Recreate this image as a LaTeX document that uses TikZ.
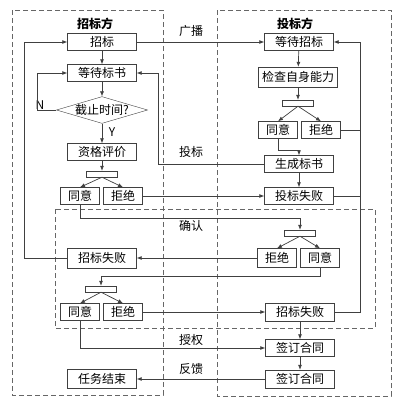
\documentclass[tikz,border=0pt]{standalone}
\usepackage{fontspec}
\setmainfont{Noto Sans CJK SC}
\usetikzlibrary{arrows.meta,shapes.geometric}
\begin{document}
\begin{tikzpicture}[x=1pt,y=-1pt,
    box/.style={draw=black!75,fill=white,minimum width=69pt,minimum height=17pt,inner sep=0pt,font=\fontsize{12}{12}\selectfont},
    sbox/.style={box,minimum width=39pt},
    bar/.style={draw=black!75,fill=white,minimum width=31pt,minimum height=6pt,inner sep=0pt},
    lnk/.style={draw=black!75,line width=0.7pt,-{Latex[length=5pt,width=4pt]}},
    ln/.style={draw=black!75,line width=0.7pt},
    lab/.style={font=\fontsize{12}{12}\selectfont},
    zone/.style={draw=black!60,dashed,line width=0.7pt,dash pattern=on 5pt off 3pt}]
\useasboundingbox (0,0) rectangle (400,407);
% dashed areas
\draw[zone] (12,10) rectangle (163,395);
\draw[zone] (217,10) rectangle (391,396);
\draw[zone] (55,209) rectangle (375,328);
% tenderer side
\node[lab,font=\fontsize{12}{12}\selectfont\bfseries] (zbf) at (95,24) {招标方};
\node[box] (zb) at (102,42) {招标};
\node[box] (ddbs) at (102,73) {等待标书};
\node[draw=black!75,fill=white,diamond,aspect=3.4,inner sep=0pt,font=\fontsize{12}{12}\selectfont] (jz) at (102,110) {截止时间?};
\node[box] (zgpj) at (102,152) {资格评价};
\node[bar] (barA) at (102,174) {};
\node[sbox] (tyA) at (80,196) {同意};
\node[sbox] (jjA) at (123,196) {拒绝};
\node[box,minimum height=20pt] (zbsbA) at (102,258) {招标失败};
\node[bar] (barB) at (101,289) {};
\node[sbox] (tyB) at (80,312) {同意};
\node[sbox] (jjB) at (123,312) {拒绝};
\node[box,minimum height=19pt] (rwjs) at (102,379) {任务结束};
% bidder side
\node[lab,font=\fontsize{12}{12}\selectfont\bfseries] (tbf) at (295,24) {投标方};
\node[box] (ddzb) at (299,42) {等待招标};
\node[box,minimum width=79pt,minimum height=20pt] (jczs) at (298,77) {检查自身能力};
\node[bar] (barC) at (298,103) {};
\node[sbox] (tyC) at (278,130) {同意};
\node[sbox] (jjC) at (321,130) {拒绝};
\node[box] (scbs) at (299,164) {生成标书};
\node[box] (tbsb) at (299,196) {投标失败};
\node[bar] (barD) at (300,233) {};
\node[sbox,minimum height=19pt] (jjD) at (277,258) {拒绝};
\node[sbox,minimum height=19pt] (tyD) at (320,258) {同意};
\node[box,minimum height=18pt] (zbsbB) at (300,312) {招标失败};
\node[box] (qdA) at (300,348) {签订合同};
\node[box,minimum height=18pt] (qdB) at (300,379) {签订合同};
\coordinate (rail) at (360,130);
% labels
\node[lab] (gb) at (191,31) {广播};
\node[lab] (tb) at (191,152) {投标};
\node[lab] (qr) at (191,226) {确认};
\node[lab] (sq) at (191,340) {授权};
\node[lab] (fk) at (191,369) {反馈};
\node[lab] (nn) at (40,105) {N};
\node[lab] (yy) at (112,132) {Y};
% connectors
\draw[lnk] (zb) -- (ddzb);
\draw[lnk] (zb) -- (ddbs);
\draw[lnk] (ddbs) -- (jz);
\draw[lnk] (jz.west) -- ++(-19,0) |- (ddbs.west);
\draw[lnk] (jz) -- (zgpj);
\draw[lnk] (zgpj) -- (barA);
\foreach \t in {tyA,jjA} \draw[lnk] (barA.south) -- (\t.north);
\draw[lnk] (jjA) -- (tbsb);
\draw[lnk] (tyA.south) -- ++(0,14) -| (barD.north);
\foreach \t in {jjD,tyD} \draw[lnk] (barD.south) -- (\t.north);
\draw[lnk] (jjD) -- (zbsbA);
\draw[lnk] (zbsbA.west) -- ++(-43,0) |- (zb.west);
\draw[lnk] (tyD.south) -- ++(0,8.5) -| (barB.north);
\foreach \t in {tyB,jjB} \draw[lnk] (barB.south) -- (\t.north);
\draw[lnk] (jjB) -- (zbsbB);
\draw[lnk] (zbsbB) -- (qdA);
\draw[lnk] (tyB.south) |- (qdA.west);
\draw[lnk] (qdA) -- (qdB);
\draw[lnk] (qdB) -- (rwjs);
\draw[lnk] (ddzb) -- (jczs);
\draw[lnk] (jczs) -- (barC);
\foreach \t in {tyC,jjC} \draw[lnk] (barC.south) -- (\t.north);
\draw[lnk] (jjC.east) -- (rail) |- (ddzb.east);
\draw[ln] (tbsb.east) -- (tbsb.east -| rail);
\draw[ln] (zbsbB.east) -| (rail);
\draw[lnk] (tyC.south) -- ++(0,12) -| (scbs.north);
\draw[lnk] (scbs) -- (tbsb);
\draw[lnk] (scbs.west) -- ++(-106,0) |- (ddbs.east);
\end{tikzpicture}
\end{document}
